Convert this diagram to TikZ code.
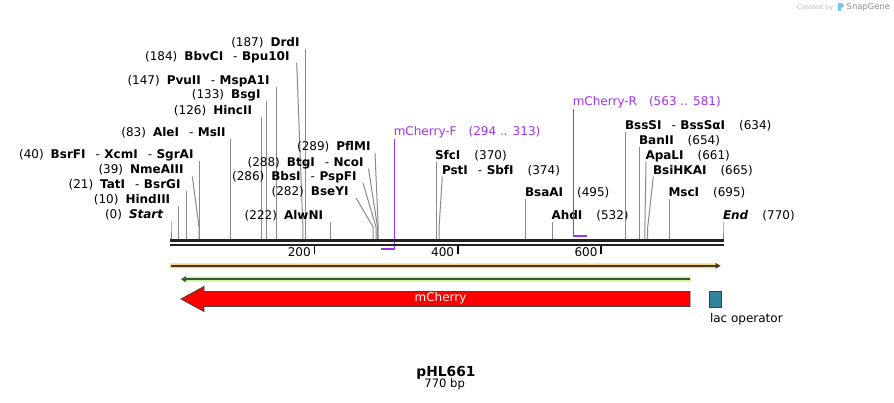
\documentclass[tikz,border=0pt]{standalone}
\usepackage{fontspec}
\setmainfont{DejaVu Sans}
\usetikzlibrary{arrows.meta,calc}
\definecolor{sitegray}{RGB}{138,138,138}
\definecolor{primc}{RGB}{160,50,235}
\definecolor{orband}{RGB}{255,210,138}
\definecolor{grband}{RGB}{200,245,154}
\definecolor{featdark}{RGB}{60,60,50}
\definecolor{grdark}{RGB}{60,85,55}
\definecolor{lacc}{RGB}{49,132,155}
\definecolor{rulc}{RGB}{34,34,34}
\definecolor{sgblue}{RGB}{120,200,235}
\newcommand\hsepx{\hspace{10pt}-\hspace{4.5pt}}
\newcommand\siteL[7]{%
  \node[lbl,anchor=base east] (#1) at (#5,#6) {#7};
  \coordinate (#1-t) at (#3,#4);
  \coordinate (#1-s) at (#2,239);
  \draw[siteln] (#1-t) -- (#2,227) -- (#1-s);}
\newcommand\siteR[7]{%
  \node[lbl,anchor=base west] (#1) at (#5,#6) {#7};
  \coordinate (#1-t) at (#3,#4);
  \coordinate (#1-s) at (#2,239);
  \draw[siteln] (#1-t) -- (#2,227) -- (#1-s);}
\begin{document}
\begin{tikzpicture}[x=1pt,y=-1pt,
  lbl/.style={inner sep=0pt,outer sep=0pt,font=\fontsize{12}{14}\selectfont,text=black},
  prim/.style={inner sep=0pt,outer sep=0pt,font=\fontsize{12}{14}\selectfont,text=primc},
  siteln/.style={draw=sitegray,line width=1pt},
  primln/.style={draw=primc,line width=1.2pt},
  primbar/.style={draw=primc,line width=2.6pt},
  rul/.style={draw=rulc,line width=2.6pt},
  tickln/.style={draw=black,line width=1.5pt},
  ticklbl/.style={inner sep=0pt,font=\fontsize{12}{14}\selectfont,anchor=base east}]
\useasboundingbox (0,0) rectangle (894,402);
\fill[white] (0,0) rectangle (894,402);

% watermark
\node[inner sep=0pt,anchor=base west,text=black!25,font=\fontsize{6.6}{8}\selectfont] (cby) at (796.7,9.5) {Created by};
\fill[sgblue] (838,3) rectangle (840.6,11);
\fill[sgblue] (840.6,3) .. controls (844.5,3) and (844.5,8) .. (840.6,8) -- cycle;
\node[inner sep=0pt,anchor=base west,text=black!45,font=\fontsize{8.4}{10}\selectfont] (sgn) at (846.5,9.6) {SnapGene};

% left cut sites
\siteL{start}{171}{171}{221}{163.5}{218.3}{(0)\hspace{7pt}\textbf{\textit{Start}}}
\siteL{hind}{178.2}{178.2}{206}{170.2}{203.7}{(10)\hspace{7pt}\textbf{HindIII}}
\siteL{tat}{186.1}{186.1}{190.5}{180.5}{188.3}{(21)\hspace{7pt}\textbf{TatI}\hsepx\textbf{BsrGI}}
\siteL{nme}{199}{192.3}{176.5}{183.5}{173.7}{(39)\hspace{7pt}\textbf{NmeAIII}}
\siteL{bsrf}{199.7}{199.7}{161}{193.5}{158.7}{(40)\hspace{7pt}\textbf{BsrFI}\hsepx\textbf{XcmI}\hsepx\textbf{SgrAI}}
\siteL{ale}{230.5}{230.5}{139}{225.5}{136.7}{(83)\hspace{7pt}\textbf{AleI}\hsepx\textbf{MslI}}
\siteL{hinc}{261.3}{261.3}{116.5}{252}{114}{(126)\hspace{7pt}\textbf{HincII}}
\siteL{bsg}{266.3}{266.3}{101}{260.5}{98.7}{(133)\hspace{7pt}\textbf{BsgI}}
\siteL{pvu}{276.4}{276.4}{86.5}{269.5}{84}{(147)\hspace{7pt}\textbf{PvuII}\hsepx\textbf{MspA1I}}
\siteL{bbv}{302.9}{296.7}{63}{289.5}{60.7}{(184)\hspace{7pt}\textbf{BbvCI}\hsepx\textbf{Bpu10I}}
\siteL{drd}{305.1}{305.1}{48.5}{299.5}{46}{(187)\hspace{7pt}\textbf{DrdI}}
\siteL{alw}{330.2}{330.2}{221.5}{323}{219}{(222)\hspace{7pt}\textbf{AlwNI}}
\siteL{bse}{373.2}{356}{198}{348.5}{195.7}{(282)\hspace{7pt}\textbf{BseYI}}
\siteL{bbs}{376}{363}{183}{356.5}{180.7}{(286)\hspace{7pt}\textbf{BbsI}\hsepx\textbf{PspFI}}
\siteL{btg}{377.5}{368.5}{168.5}{363.5}{166}{(288)\hspace{7pt}\textbf{BtgI}\hsepx\textbf{NcoI}}
\siteL{pfl}{378.2}{375}{153}{370.5}{150.7}{(289)\hspace{7pt}\textbf{PflMI}}

% right cut sites
\siteR{sfc}{436.3}{436.3}{161.5}{435}{159}{\textbf{SfcI}\hspace{14pt}(370)}
\siteR{pst}{439.1}{442.3}{176.5}{442}{174}{\textbf{PstI}\hsepx\textbf{SbfI}\hspace{14pt}(374)}
\siteR{bsaa}{525.9}{525.9}{198.5}{525}{196}{\textbf{BsaAI}\hspace{14pt}(495)}
\siteR{ahd}{552.4}{552.4}{221.5}{551.5}{219.3}{\textbf{AhdI}\hspace{14pt}(532)}
\siteR{bsss}{625.5}{625.5}{131.5}{625}{129}{\textbf{BssSI}\hsepx\textbf{BssSαI}\hspace{14pt}(634)}
\siteR{ban}{639.9}{639.9}{146.5}{639}{144.3}{\textbf{BanII}\hspace{14pt}(654)}
\siteR{apa}{644.9}{646}{161.5}{645.5}{159}{\textbf{ApaLI}\hspace{14pt}(661)}
\siteR{bsih}{647.7}{653.3}{176.5}{653}{174}{\textbf{BsiHKAI}\hspace{14pt}(665)}
\siteR{msc}{669.2}{669.2}{198.5}{668.5}{196}{\textbf{MscI}\hspace{14pt}(695)}
\siteR{endl}{723}{723}{221.5}{723}{219.3}{\textbf{\textit{End}}\hspace{14pt}(770)}

% primers
\node[prim,anchor=base west] (pf) at (393.8,135.7) {mCherry-F\hspace{12pt}(294 .. 313)};
\coordinate (pf-t) at (394.5,138.5);
\coordinate (pf-b) at (394.5,248.8);
\coordinate (pf-e) at (381,248.8);
\draw[primln] (pf-t) -- (pf-b);
\draw[primbar] (pf-e) -- ($(pf-b)+(0.6,0)$);
\node[prim,anchor=base west] (pr) at (572.8,105.7) {mCherry-R\hspace{12pt}(563 .. 581)};
\coordinate (pr-t) at (573.5,108.5);
\coordinate (pr-b) at (573.5,235.8);
\coordinate (pr-e) at (586.5,235.8);
\draw[primln] (pr-t) -- (pr-b);
\draw[primbar] ($(pr-b)+(-0.6,0)$) -- (pr-e);

% ruler
\draw[rul] (170,240.3) -- (723.8,240.3);
\draw[rul] (170,244.9) -- (723.8,244.9);
\foreach \xx/\tt in {314.4/200,457.8/400,601.1/600}{
  \draw[tickln] (\xx,246) -- (\xx,253.5);
  \node[ticklbl] (t\tt) at (\xx-3.5,256.3) {\tt};
}

% features
\fill[orband] (170,263.3) -- (716.5,263.3) -- (721.5,265.8) -- (716.5,268.3) -- (170,268.3) -- cycle;
\draw[featdark,line width=1.8pt,-{Triangle[length=5pt,width=5.5pt]}] (171,265.8) -- (720.5,265.8);
\fill[grband] (691,276.7) -- (185,276.7) -- (180,279.2) -- (185,281.7) -- (691,281.7) -- cycle;
\draw[grdark,line width=1.8pt,-{Triangle[length=5pt,width=5.5pt]}] (689.5,279.2) -- (181,279.2);
\draw[fill=red,draw=black!75,line width=0.8pt] (690,291.5) -- (204,291.5) -- (204,286.5) -- (181,299) -- (204,311.5) -- (204,306.5) -- (690,306.5) -- cycle;
\node[inner sep=0pt,text=white,font=\fontsize{12}{14}\selectfont] (mch) at (440.5,298.6) {mCherry};
\node[draw=black!75,fill=lacc,line width=0.8pt,minimum width=12.5pt,minimum height=16.5pt,inner sep=0pt] (lacbox) at (715.4,299.3) {};
\node[lbl,anchor=base west] (lac) at (710,322.5) {lac operator};

% title
\node[inner sep=0pt,anchor=base,font=\bfseries\fontsize{13.8}{16}\selectfont] (title) at (446,376.7) {pHL661};
\node[inner sep=0pt,anchor=base,font=\fontsize{11.6}{14}\selectfont] (size) at (444.7,387.7) {770 bp};
\end{tikzpicture}
\end{document}
